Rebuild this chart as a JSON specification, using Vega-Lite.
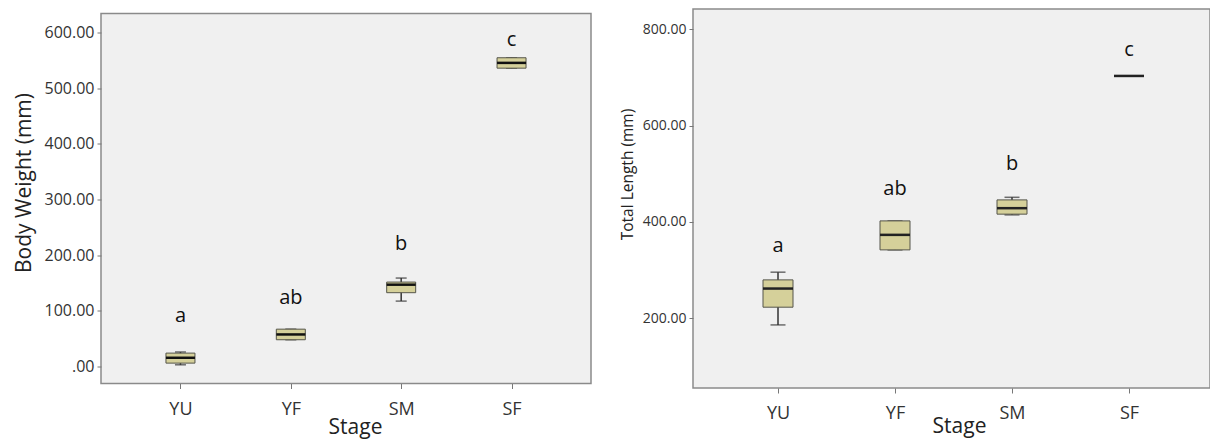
{
  "$schema": "https://vega.github.io/schema/vega-lite/v6.json",
  "padding": {"left": 12, "top": 8, "right": 0, "bottom": 0},
  "background": "white",
  "spacing": 102,
  "bounds": "flush",
  "center": true,
  "config": {
    "font": "Open Sans",
    "view": {"fill": "#f0f0f0", "stroke": "#8a8a8a", "strokeWidth": 1.5},
    "axis": {"grid": false, "domain": false, "tickColor": "#777", "labelColor": "#333", "titleColor": "#222", "titleFontWeight": "normal", "labelFont": "Open Sans", "titleFont": "Open Sans"}
  },
  "datasets": {
    "bw": [
      {"Stage": "YU", "min": 3, "q1": 6, "median": 15.6, "q3": 24, "max": 26, "letter": "a", "label_y": 79},
      {"Stage": "YF", "min": 48, "q1": 48, "median": 57.5, "q3": 67, "max": 67, "letter": "ab", "label_y": 113},
      {"Stage": "SM", "min": 117.4, "q1": 132.5, "median": 146.9, "q3": 151.6, "max": 158.8, "letter": "b", "label_y": 208.6},
      {"Stage": "SF", "min": 535.8, "q1": 535.8, "median": 545.3, "q3": 554.5, "max": 554.5, "letter": "c", "label_y": 575}
    ],
    "tl": [
      {"Stage": "YU", "min": 186, "q1": 222.8, "median": 261.5, "q3": 279.5, "max": 295.5, "letter": "a", "label_y": 337.6},
      {"Stage": "YF", "min": 341.8, "q1": 341.8, "median": 373, "q3": 402, "max": 402, "letter": "ab", "label_y": 456},
      {"Stage": "SM", "min": 414.5, "q1": 416, "median": 428.4, "q3": 445.6, "max": 451, "letter": "b", "label_y": 508},
      {"Stage": "SF", "min": 703, "q1": 703, "median": 703, "q3": 703, "max": 703, "letter": "c", "label_y": 744.5}
    ]
  },
  "hconcat": [
    {
      "width": 490,
      "height": 370,
      "data": {"name": "bw"},
      "encoding": {
        "x": {
          "field": "Stage", "type": "nominal", "sort": ["YU", "YF", "SM", "SF"],
          "scale": {"type": "point", "padding": 0.72},
          "axis": {"title": "Stage", "labelAngle": 0, "labelFontSize": 18, "tickSize": 5, "labelPadding": 12, "titleFontSize": 21, "titleX": 254, "titleY": 50, "titleBaseline": "alphabetic", "titleAlign": "center"}
        }
      },
      "layer": [
        {
          "mark": {"type": "rule", "color": "#333", "strokeWidth": 1.5},
          "encoding": {
            "y": {"field": "min", "type": "quantitative", "scale": {"domain": [-30.6, 634], "nice": false, "zero": false},
              "axis": {"title": "Body Weight (mm)", "values": [0, 100, 200, 300, 400, 500, 600], "labelExpr": "datum.value == 0 ? '.00' : format(datum.value, '.2f')", "labelFontSize": 16, "labelPadding": 3, "tickSize": 4, "minExtent": 57, "maxExtent": 57, "titleFontSize": 21, "titlePadding": 10, "titleY": 169}},
            "y2": {"field": "max"}
          }
        },
        {"mark": {"type": "tick", "color": "#333", "size": 11, "thickness": 1.5}, "encoding": {"y": {"field": "min", "type": "quantitative"}}},
        {"mark": {"type": "tick", "color": "#333", "size": 11, "thickness": 1.5}, "encoding": {"y": {"field": "max", "type": "quantitative"}}},
        {"mark": {"type": "bar", "size": 29, "fill": "#d5d09a", "stroke": "#55554a", "strokeWidth": 1, "opacity": 1}, "encoding": {"y": {"field": "q1", "type": "quantitative"}, "y2": {"field": "q3"}}},
        {"mark": {"type": "tick", "color": "#111", "size": 29, "thickness": 2.5, "opacity": 1}, "encoding": {"y": {"field": "median", "type": "quantitative"}}},
        {"mark": {"type": "text", "fontSize": 20, "baseline": "alphabetic", "align": "center", "color": "#111"}, "encoding": {"y": {"field": "label_y", "type": "quantitative"}, "text": {"field": "letter"}}}
      ]
    },
    {
      "width": 517,
      "height": 379,
      "data": {"name": "tl"},
      "encoding": {
        "x": {
          "field": "Stage", "type": "nominal", "sort": ["YU", "YF", "SM", "SF"],
          "scale": {"type": "point", "range": [85, 436], "padding": 0},
          "axis": {"title": "Stage", "labelAngle": 0, "labelFontSize": 18, "tickSize": 5, "labelPadding": 11, "titleFontSize": 21, "titleX": 266, "titleY": 44, "titleBaseline": "alphabetic", "titleAlign": "center"}
        }
      },
      "layer": [
        {
          "mark": {"type": "rule", "color": "#333", "strokeWidth": 1.5},
          "encoding": {
            "y": {"field": "min", "type": "quantitative", "scale": {"domain": [55, 842], "nice": false, "zero": false},
              "axis": {"title": "Total Length (mm)", "values": [200, 400, 600, 800], "labelExpr": "format(datum.value, '.2f')", "labelFontSize": 14, "labelPadding": 3, "tickSize": 4, "minExtent": 51, "maxExtent": 51, "titleFontSize": 15.5, "titlePadding": 7, "titleY": 165}},
            "y2": {"field": "max"}
          }
        },
        {"mark": {"type": "tick", "color": "#333", "size": 15, "thickness": 1.5}, "encoding": {"y": {"field": "min", "type": "quantitative"}}},
        {"mark": {"type": "tick", "color": "#333", "size": 15, "thickness": 1.5}, "encoding": {"y": {"field": "max", "type": "quantitative"}}},
        {"mark": {"type": "bar", "size": 30, "fill": "#d5d09a", "stroke": "#55554a", "strokeWidth": 1, "opacity": 1}, "encoding": {"y": {"field": "q1", "type": "quantitative"}, "y2": {"field": "q3"}}},
        {"mark": {"type": "tick", "color": "#222", "size": 30, "thickness": 2.5, "opacity": 1}, "encoding": {"y": {"field": "median", "type": "quantitative"}}},
        {"mark": {"type": "text", "fontSize": 20, "baseline": "alphabetic", "align": "center", "color": "#111"}, "encoding": {"y": {"field": "label_y", "type": "quantitative"}, "text": {"field": "letter"}}}
      ]
    }
  ]
}
